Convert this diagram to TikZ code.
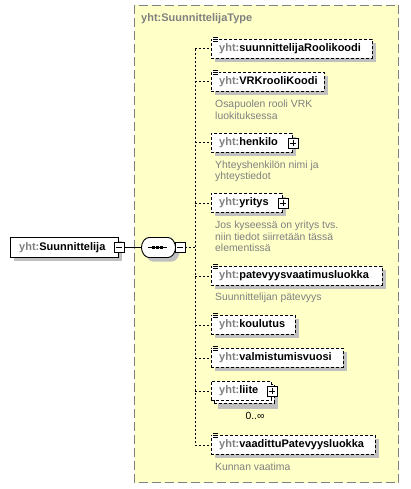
\documentclass[tikz,border=0pt]{standalone}
\usepackage{fontspec}
\setmainfont{Liberation Sans}
\definecolor{typefill}{HTML}{FFFFC8}
\definecolor{typeborder}{HTML}{808080}
\definecolor{shadowc}{HTML}{C0C0C0}
\definecolor{prefixc}{HTML}{808080}
\definecolor{descc}{HTML}{808080}
\newcommand\yhtpre{{\color{prefixc}yht:}}
\tikzset{
 typebox/.style={fill=typefill, draw=typeborder, line width=1pt, dash pattern=on 9pt off 4pt},
 elembox/.style={draw=black, fill=white, line width=0.9pt, dash pattern=on 3pt off 2pt, minimum height=19pt, inner sep=0pt, anchor=north west},
 rootbox/.style={draw=black, fill=white, line width=0.9pt, minimum height=20pt, inner sep=0pt, anchor=north west},
 etext/.style={font=\fontsize{11}{13}\selectfont\bfseries, inner sep=0pt, anchor=west, text height=8pt, text depth=2pt},
 desc/.style={font=\fontsize{10.4}{11.5}\selectfont, text=descc, inner sep=0pt, anchor=base west, align=left},
 conn/.style={line width=0.9pt, dash pattern=on 2pt off 2pt},
 pmbox/.style={draw=black, fill=white, line width=0.8pt, minimum size=10pt, inner sep=0pt},
}
\newcommand\mkelem[5]{%
  \fill[shadowc] (#2+4,#3+4) rectangle (#2+#4+4,#3+23);
  \node[elembox, minimum width=#4pt] (#1) at (#2,#3) {};
  \node[etext] (#1t) at ([xshift=8pt]#1.west) {\yhtpre #5};
}
\newcommand\mkicon[1]{%
  \fill[white] ([shift={(1,-0.5)}]#1.north west) rectangle ([shift={(8,4)}]#1.north west);
  \draw[line width=0.7pt] ([shift={(2,-1.5)}]#1.north west) -- ++(5,0)
    ([shift={(2,0.5)}]#1.north west) -- ++(5,0)
    ([shift={(2,2.5)}]#1.north west) -- ++(5,0);
}
\newcommand\mkplus[2]{%
  \node[pmbox] (#1) at (#2) {};
  \draw[line width=0.8pt] ([xshift=2pt]#1.west) -- ([xshift=-2pt]#1.east)
    ([yshift=-2pt]#1.north) -- ([yshift=2pt]#1.south);
}
\newcommand\mkminus[2]{%
  \node[pmbox] (#1) at (#2) {};
  \draw[line width=0.8pt] ([xshift=2pt]#1.west) -- ([xshift=-2pt]#1.east);
}
\newcommand\octpath[2]{% center x, center y
  (#1-17,#2-3.5) -- (#1-12.5,#2-10) -- (#1+12.5,#2-10) -- (#1+17,#2-3.5) --
  (#1+17,#2+3.5) -- (#1+12.5,#2+10) -- (#1-12.5,#2+10) -- (#1-17,#2+3.5) -- cycle
}
\begin{document}
\begin{tikzpicture}[x=1pt,y=-1pt]
\useasboundingbox (0,0) rectangle (410,489);
% complex type box
\draw[typebox] (134.5,5.5) rectangle (398.5,482.5);
\node[font=\fontsize{11}{13}\selectfont\bfseries, text=prefixc, anchor=west, inner sep=0pt, text height=8pt, text depth=2pt] (title) at (141,19) {yht:SuunnittelijaType};

% root element
\fill[shadowc] (14,241) rectangle (122,261);
\node[rootbox, minimum width=108pt] (root) at (10,237) {};
\node[etext] (roott) at ([xshift=9pt]root.west) {\yhtpre Suunnittelija};
\mkminus{rootm}{root.east}

% sequence compositor
\node[minimum width=34pt, minimum height=20pt, inner sep=0pt] (seq) at (158.5,247.5) {};
\fill[shadowc, rounded corners=3pt] \octpath{162.5}{251.5};
\draw[fill=white, line width=0.9pt, rounded corners=3pt] \octpath{158.5}{247.5};
\draw[line width=0.9pt] ([xshift=-11pt]seq.center) -- ([xshift=8pt]seq.center);
\foreach \dx in {-5.5,-1.5,2.5} {
  \fill ([shift={(\dx-1.5,-1.5)}]seq.center) rectangle ([shift={(\dx+1.5,1.5)}]seq.center);
}
\mkminus{seqm}{180,247}
\draw[line width=0.9pt] (rootm.east) -- (seq.west);

% spine
\coordinate (spine) at (195,247);

% child elements
\mkelem{e1}{211}{39}{161}{suunnittelijaRoolikoodi}
\mkicon{e1}
\mkelem{e2}{211}{72}{113}{VRKrooliKoodi}
\mkicon{e2}
\node[desc] (d2) at (215,119.5) {Osapuolen rooli VRK\\luokituksessa};
\mkelem{e3}{211}{133}{81}{henkilo}
\mkplus{p3}{e3.east}
\node[desc] (d3) at (215,179.5) {Yhteyshenkilön nimi ja\\yhteystiedot};
\mkelem{e4}{211}{193}{71}{yritys}
\mkplus{p4}{e4.east}
\node[desc] (d4) at (215,251.5) {Jos kyseessä on yritys tvs.\\niin tiedot siirretään tässä\\elementissä};
\mkelem{e5}{211}{266}{171}{patevyysvaatimusluokka}
\mkicon{e5}
\node[desc] (d5) at (215,300.5) {Suunnittelijan pätevyys};
\mkelem{e6}{211}{315}{84}{koulutus}
\mkicon{e6}
\mkelem{e7}{211}{348}{132}{valmistumisvuosi}
\mkicon{e7}
% liite (multiple)
\fill[shadowc] (218,388) rectangle (278,409);
\node[elembox, minimum width=60pt] (e8b) at (214,384) {};
\node[elembox, minimum width=60pt] (e8) at (211,381) {};
\node[etext] (e8t) at ([xshift=8pt]e8.west) {\yhtpre liite};
\mkplus{p8}{e8.east}
\node[font=\fontsize{10.4}{12}\selectfont, inner sep=0pt] (m8) at (255,416) {0..∞};
\mkelem{e9}{211}{435}{164}{vaadittuPatevyysluokka}
\mkicon{e9}
\node[desc] (d9) at (215,470.5) {Kunnan vaatima};

% connectors
\draw[conn] (seqm.east) -- (spine);
\draw[conn] (spine |- e1.west) -- (spine |- e9.west);
\foreach \e in {e1,e2,e3,e4,e5,e6,e7,e8,e9} {
  \draw[conn] (spine |- \e.west) -- (\e.west);
}
\end{tikzpicture}
\end{document}
